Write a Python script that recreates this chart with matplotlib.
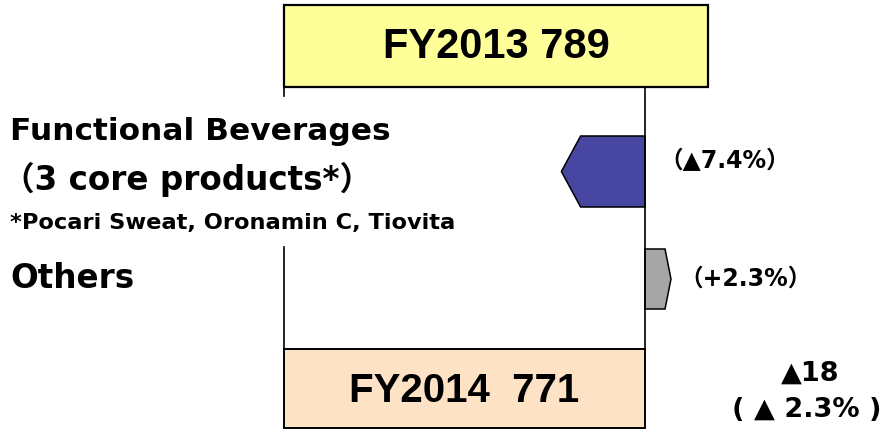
import matplotlib
matplotlib.use("Agg")
import matplotlib.pyplot as plt
from matplotlib.patches import Rectangle, Polygon

# ------------------------------------------------------
# Data
# ------------------------------------------------------
years = ["FY2013", "FY2014"]
totals = [789, 771]
segments = ["Functional Beverages", "Others"]
segment_sub = "（3 core products*）"
segment_note = "*Pocari Sweat, Oronamin C, Tiovita"
segment_pct = [-7.4, 2.3]
total_change = -18
total_change_pct = -2.3

# ------------------------------------------------------
# Style
# ------------------------------------------------------
FONT_BOX = ["Liberation Sans", "Noto Sans CJK JP"]
FONT = ["DejaVu Sans", "Noto Sans CJK JP"]
TOP_COLOR = "#FFFF99"
BOTTOM_COLOR = "#FDE2C6"
SEG_COLORS = ["#4747A1", "#A6A6A6"]
PX_PER_PCT = 11.3


def tri(v):
    # Japanese convention: negative values marked with a triangle
    return f"▲{abs(v)}" if v < 0 else f"+{v}"


fig = plt.figure(figsize=(8.86, 4.32), dpi=100)
ax = fig.add_axes([0, 0, 1, 1])
ax.set_xlim(0, 886)
ax.set_ylim(432, 0)
ax.axis("off")

# layout (pixel space)
left_x, base_x = 284, 645
top_box = (5, 87, 708)      # y0, y1, right edge
bot_box = (349, 428, 645)
seg_rows = [(136, 207), (249, 309)]

# total boxes
ax.add_patch(Rectangle((left_x, top_box[0]), top_box[2] - left_x, top_box[1] - top_box[0],
                       facecolor=TOP_COLOR, edgecolor="black", lw=1.6, zorder=3))
ax.add_patch(Rectangle((left_x, bot_box[0]), bot_box[2] - left_x, bot_box[1] - bot_box[0],
                       facecolor=BOTTOM_COLOR, edgecolor="black", lw=1.4, zorder=3))
ax.text((left_x + top_box[2]) / 2, (top_box[0] + top_box[1]) / 2 + 1,
        f"{years[0]} {totals[0]}", ha="center", va="center",
        fontsize=30, fontweight="bold", family=FONT_BOX, zorder=4)
ax.text((left_x + bot_box[2]) / 2, (bot_box[0] + bot_box[1]) / 2 + 2,
        f"{years[1]}  {totals[1]}", ha="center", va="center",
        fontsize=29, fontweight="bold", family=FONT_BOX, zorder=4)

# connector lines
ax.plot([left_x, left_x], [top_box[1], 96], color="black", lw=1.2, zorder=2)
ax.plot([left_x, left_x], [247, bot_box[0]], color="black", lw=1.2, zorder=2)
ax.plot([base_x, base_x], [top_box[1], bot_box[0]], color="black", lw=1.2, zorder=5)

# segment arrows
for pct, (y0, y1), col in zip(segment_pct, seg_rows, SEG_COLORS):
    length = pct * PX_PER_PCT
    tip = base_x + length
    shoulder = base_x + length * 0.77
    ym = (y0 + y1) / 2
    pts = [(base_x, y0), (shoulder, y0), (tip, ym), (shoulder, y1), (base_x, y1)]
    ax.add_patch(Polygon(pts, closed=True, facecolor=col, edgecolor="black",
                         lw=1.1, zorder=4))

ax.text(725, 161, f"（{tri(segment_pct[0])}%）", ha="center", va="center",
        fontsize=17, fontweight="bold", family=FONT)
ax.text(746, 279, f"（{tri(segment_pct[1])}%）", ha="center", va="center",
        fontsize=17, fontweight="bold", family=FONT)

# segment labels
ax.text(10, 131, segments[0], ha="left", va="center",
        fontsize=22.5, fontweight="bold", family=FONT)
ax.text(2, 179, segment_sub, ha="left", va="center",
        fontsize=23.5, fontweight="bold", family=FONT)
ax.text(10, 223, segment_note, ha="left", va="center",
        fontsize=16.2, fontweight="bold", family=FONT)
ax.text(10, 279, segments[1], ha="left", va="center",
        fontsize=23.5, fontweight="bold", family=FONT)

# total change
ax.text(810, 374, tri(total_change), ha="center", va="center",
        fontsize=19.5, fontweight="bold", family=FONT)
ax.text(807, 410, f"( {tri(total_change_pct)}% )".replace("▲", "▲ "), ha="center",
        va="center", fontsize=19.5, fontweight="bold", family=FONT)

fig.savefig("out.png", dpi=100)
